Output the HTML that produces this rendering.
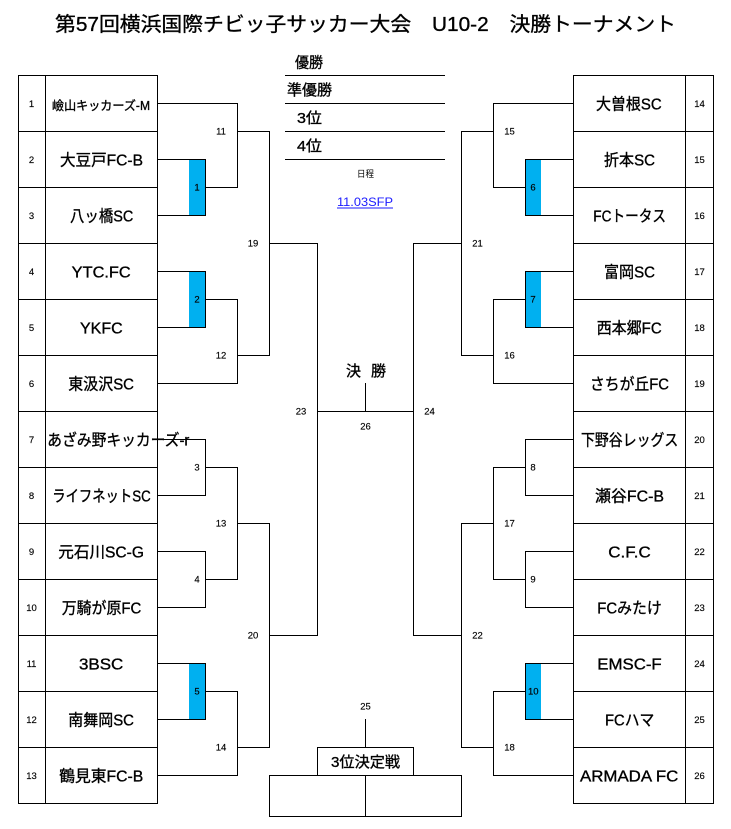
<!DOCTYPE html>
<html><head><meta charset="utf-8"><style>
html,body{margin:0;padding:0;background:#fff;}
svg{display:block;}
text{font-family:"Liberation Sans","Noto Sans CJK JP",sans-serif;fill:#000;}
.t,.r,.ti{stroke:#000;stroke-width:0.35px;}
.t{font-size:16px;}
.n{font-size:9.5px;text-anchor:middle;stroke:#000;stroke-width:0.15px;}
.r{font-size:15px;}
</style></head><body>
<svg width="731" height="829" viewBox="0 0 731 829" xmlns="http://www.w3.org/2000/svg">
<rect x="0" y="0" width="731" height="829" fill="#fff"/>
<!-- title -->
<text class="ti" x="55" y="31" font-size="20" textLength="621" lengthAdjust="spacingAndGlyphs">第57回横浜国際チビッ子サッカー大会　U10-2　決勝トーナメント</text>

<!-- blue boxes -->
<g fill="#00b0f0">
<rect x="189" y="159" width="16" height="57"/>
<rect x="189" y="271" width="16" height="57"/>
<rect x="189" y="663" width="16" height="57"/>
<rect x="525" y="159" width="16" height="57"/>
<rect x="525" y="271" width="16" height="57"/>
<rect x="525" y="663" width="16" height="57"/>
</g>

<g stroke="#000" stroke-width="1" fill="none" shape-rendering="crispEdges" stroke-linecap="square">
<!-- left table -->
<rect x="18.5" y="75.5" width="139" height="728"/>
<path d="M45.5 75.5V803.5M18.5 131.5H157.5M18.5 187.5H157.5M18.5 243.5H157.5M18.5 299.5H157.5M18.5 355.5H157.5M18.5 411.5H157.5M18.5 467.5H157.5M18.5 523.5H157.5M18.5 579.5H157.5M18.5 635.5H157.5M18.5 691.5H157.5M18.5 747.5H157.5"/>
<!-- right table -->
<rect x="573.5" y="75.5" width="140" height="728"/>
<path d="M685.5 75.5V803.5M573.5 131.5H713.5M573.5 187.5H713.5M573.5 243.5H713.5M573.5 299.5H713.5M573.5 355.5H713.5M573.5 411.5H713.5M573.5 467.5H713.5M573.5 523.5H713.5M573.5 579.5H713.5M573.5 635.5H713.5M573.5 691.5H713.5M573.5 747.5H713.5"/>
<!-- left bracket -->
<path d="M157.5 103.5H237.5
M157.5 159.5H205.5M157.5 215.5H205.5M205.5 159.5V215.5M205.5 187.5H237.5
M237.5 103.5V187.5M237.5 131.5H269.5
M157.5 271.5H205.5M157.5 327.5H205.5M205.5 271.5V327.5M205.5 299.5H237.5
M157.5 383.5H237.5M237.5 299.5V383.5M237.5 355.5H269.5
M269.5 131.5V355.5M269.5 243.5H317.5
M157.5 439.5H205.5M157.5 495.5H205.5M205.5 439.5V495.5M205.5 467.5H237.5
M157.5 551.5H205.5M157.5 607.5H205.5M205.5 551.5V607.5M205.5 579.5H237.5
M237.5 467.5V579.5M237.5 523.5H269.5
M157.5 663.5H205.5M157.5 719.5H205.5M205.5 663.5V719.5M205.5 691.5H237.5
M157.5 775.5H237.5M237.5 691.5V775.5M237.5 747.5H269.5
M269.5 523.5V747.5M269.5 635.5H317.5
M317.5 243.5V635.5M317.5 411.5H413.5
M365.5 383.5V411.5"/>
<!-- right bracket -->
<path d="M493.5 103.5H573.5
M525.5 159.5H573.5M525.5 215.5H573.5M525.5 159.5V215.5M493.5 187.5H525.5
M493.5 103.5V187.5M461.5 131.5H493.5
M525.5 271.5H573.5M525.5 327.5H573.5M525.5 271.5V327.5M493.5 299.5H525.5
M493.5 383.5H573.5M493.5 299.5V383.5M461.5 355.5H493.5
M461.5 131.5V355.5M413.5 243.5H461.5
M525.5 439.5H573.5M525.5 495.5H573.5M525.5 439.5V495.5M493.5 467.5H525.5
M525.5 551.5H573.5M525.5 607.5H573.5M525.5 551.5V607.5M493.5 579.5H525.5
M493.5 467.5V579.5M461.5 523.5H493.5
M525.5 663.5H573.5M525.5 719.5H573.5M525.5 663.5V719.5M493.5 691.5H525.5
M493.5 775.5H573.5M493.5 691.5V775.5M461.5 747.5H493.5
M461.5 523.5V747.5M413.5 635.5H461.5
M413.5 243.5V635.5"/>
<!-- 3rd place -->
<path d="M365.5 719.5V747.5M365.5 775.5V816.5"/>
<rect x="317.5" y="747.5" width="96" height="28"/>
<rect x="269.5" y="775.5" width="192" height="41"/>
<!-- results lines -->
<path d="M285.5 75.5H444.5M285.5 103.5H444.5M285.5 131.5H444.5M285.5 159.5H444.5"/>
</g>

<!-- results text -->
<text class="r" x="295" y="67.5" textLength="28" lengthAdjust="spacingAndGlyphs">優勝</text>
<text class="r" x="287" y="95" textLength="45" lengthAdjust="spacingAndGlyphs">準優勝</text>
<text class="r" x="297" y="123" textLength="25" lengthAdjust="spacingAndGlyphs">3位</text>
<text class="r" x="297" y="151" textLength="25" lengthAdjust="spacingAndGlyphs">4位</text>
<text x="357" y="177" font-size="9" textLength="17" lengthAdjust="spacingAndGlyphs">日程</text>
<text x="337" y="206" font-size="12" textLength="56" lengthAdjust="spacingAndGlyphs" style="fill:#1a1aff">11.03SFP</text>
<line x1="337" y1="208" x2="393" y2="208" stroke="#1a1aff" stroke-width="1"/>

<!-- final -->
<text class="r" x="346" y="376">決</text>
<text class="r" x="371" y="376">勝</text>
<text class="r" x="331" y="767" textLength="69" lengthAdjust="spacingAndGlyphs">3位決定戦</text>

<!-- left team names -->
<text class="t" x="52" y="110" style="font-size:12.5px" textLength="98" lengthAdjust="spacingAndGlyphs">嶮山キッカーズ-M</text>
<text class="t" x="60" y="165.5" textLength="83" lengthAdjust="spacingAndGlyphs">大豆戸FC-B</text>
<text class="t" x="70" y="221.5" textLength="63.3" lengthAdjust="spacingAndGlyphs">八ッ橋SC</text>
<text class="t" x="71.7" y="277.5" textLength="59" lengthAdjust="spacingAndGlyphs">YTC.FC</text>
<text class="t" x="80" y="333.5" textLength="42.7" lengthAdjust="spacingAndGlyphs">YKFC</text>
<text class="t" x="68.3" y="389.5" textLength="65.7" lengthAdjust="spacingAndGlyphs">東汲沢SC</text>
<text class="t" x="47.3" y="445.5" textLength="142" lengthAdjust="spacingAndGlyphs">あざみ野キッカーズ-r</text>
<text class="t" x="52.3" y="501.5" textLength="98.4" lengthAdjust="spacingAndGlyphs">ライフネットSC</text>
<text class="t" x="58.3" y="557.5" textLength="85.7" lengthAdjust="spacingAndGlyphs">元石川SC-G</text>
<text class="t" x="61.7" y="613.5" textLength="79.6" lengthAdjust="spacingAndGlyphs">万騎が原FC</text>
<text class="t" x="79" y="669.5" textLength="44.3" lengthAdjust="spacingAndGlyphs">3BSC</text>
<text class="t" x="68.3" y="725.5" textLength="65.7" lengthAdjust="spacingAndGlyphs">南舞岡SC</text>
<text class="t" x="59.3" y="781.5" textLength="84" lengthAdjust="spacingAndGlyphs">鶴見東FC-B</text>

<!-- right team names -->
<text class="t" x="596" y="109.5" textLength="65.7" lengthAdjust="spacingAndGlyphs">大曽根SC</text>
<text class="t" x="604" y="165.5" textLength="51" lengthAdjust="spacingAndGlyphs">折本SC</text>
<text class="t" x="593.3" y="221.5" textLength="72.7" lengthAdjust="spacingAndGlyphs">FCトータス</text>
<text class="t" x="604" y="277.5" textLength="51" lengthAdjust="spacingAndGlyphs">富岡SC</text>
<text class="t" x="596.7" y="333.5" textLength="65" lengthAdjust="spacingAndGlyphs">西本郷FC</text>
<text class="t" x="590" y="389.5" textLength="79" lengthAdjust="spacingAndGlyphs">さちが丘FC</text>
<text class="t" x="581" y="445.5" textLength="97.3" lengthAdjust="spacingAndGlyphs">下野谷レッグス</text>
<text class="t" x="595" y="501.5" textLength="69" lengthAdjust="spacingAndGlyphs">瀬谷FC-B</text>
<text class="t" x="608.3" y="557.5" textLength="42.4" lengthAdjust="spacingAndGlyphs">C.F.C</text>
<text class="t" x="597.3" y="613.5" textLength="64.4" lengthAdjust="spacingAndGlyphs">FCみたけ</text>
<text class="t" x="597.3" y="669.5" textLength="64.4" lengthAdjust="spacingAndGlyphs">EMSC-F</text>
<text class="t" x="605" y="725.5" textLength="49.3" lengthAdjust="spacingAndGlyphs">FCハマ</text>
<text class="t" x="580" y="781.5" textLength="98.3" lengthAdjust="spacingAndGlyphs">ARMADA FC</text>

<!-- row numbers -->
<text class="n" x="31.5" y="107">1</text>
<text class="n" x="31.5" y="163">2</text>
<text class="n" x="31.5" y="219">3</text>
<text class="n" x="31.5" y="275">4</text>
<text class="n" x="31.5" y="331">5</text>
<text class="n" x="31.5" y="387">6</text>
<text class="n" x="31.5" y="443">7</text>
<text class="n" x="31.5" y="499">8</text>
<text class="n" x="31.5" y="555">9</text>
<text class="n" x="31.5" y="611">10</text>
<text class="n" x="31.5" y="667">11</text>
<text class="n" x="31.5" y="723">12</text>
<text class="n" x="31.5" y="779">13</text>
<text class="n" x="699.5" y="107">14</text>
<text class="n" x="699.5" y="163">15</text>
<text class="n" x="699.5" y="219">16</text>
<text class="n" x="699.5" y="275">17</text>
<text class="n" x="699.5" y="331">18</text>
<text class="n" x="699.5" y="387">19</text>
<text class="n" x="699.5" y="443">20</text>
<text class="n" x="699.5" y="499">21</text>
<text class="n" x="699.5" y="555">22</text>
<text class="n" x="699.5" y="611">23</text>
<text class="n" x="699.5" y="667">24</text>
<text class="n" x="699.5" y="723">25</text>
<text class="n" x="699.5" y="779">26</text>

<!-- match labels -->
<text class="n" x="197" y="190.5">1</text>
<text class="n" x="197" y="302.5">2</text>
<text class="n" x="197" y="470.5">3</text>
<text class="n" x="197" y="582.5">4</text>
<text class="n" x="197" y="694.5">5</text>
<text class="n" x="221" y="134.5">11</text>
<text class="n" x="221" y="358.5">12</text>
<text class="n" x="221" y="526.5">13</text>
<text class="n" x="221" y="750.5">14</text>
<text class="n" x="253" y="246.5">19</text>
<text class="n" x="253" y="638.5">20</text>
<text class="n" x="301" y="414.5">23</text>
<text class="n" x="533" y="190.5">6</text>
<text class="n" x="533" y="302.5">7</text>
<text class="n" x="533" y="470.5">8</text>
<text class="n" x="533" y="582.5">9</text>
<text class="n" x="533.3" y="694.5">10</text>
<text class="n" x="509.5" y="134.5">15</text>
<text class="n" x="509.5" y="358.5">16</text>
<text class="n" x="509.5" y="526.5">17</text>
<text class="n" x="509.5" y="750.5">18</text>
<text class="n" x="477.5" y="246.5">21</text>
<text class="n" x="477.5" y="638.5">22</text>
<text class="n" x="429.5" y="414.5">24</text>
<text class="n" x="365.5" y="429.5">26</text>
<text class="n" x="365.5" y="709.5">25</text>
</svg>
</body></html>
